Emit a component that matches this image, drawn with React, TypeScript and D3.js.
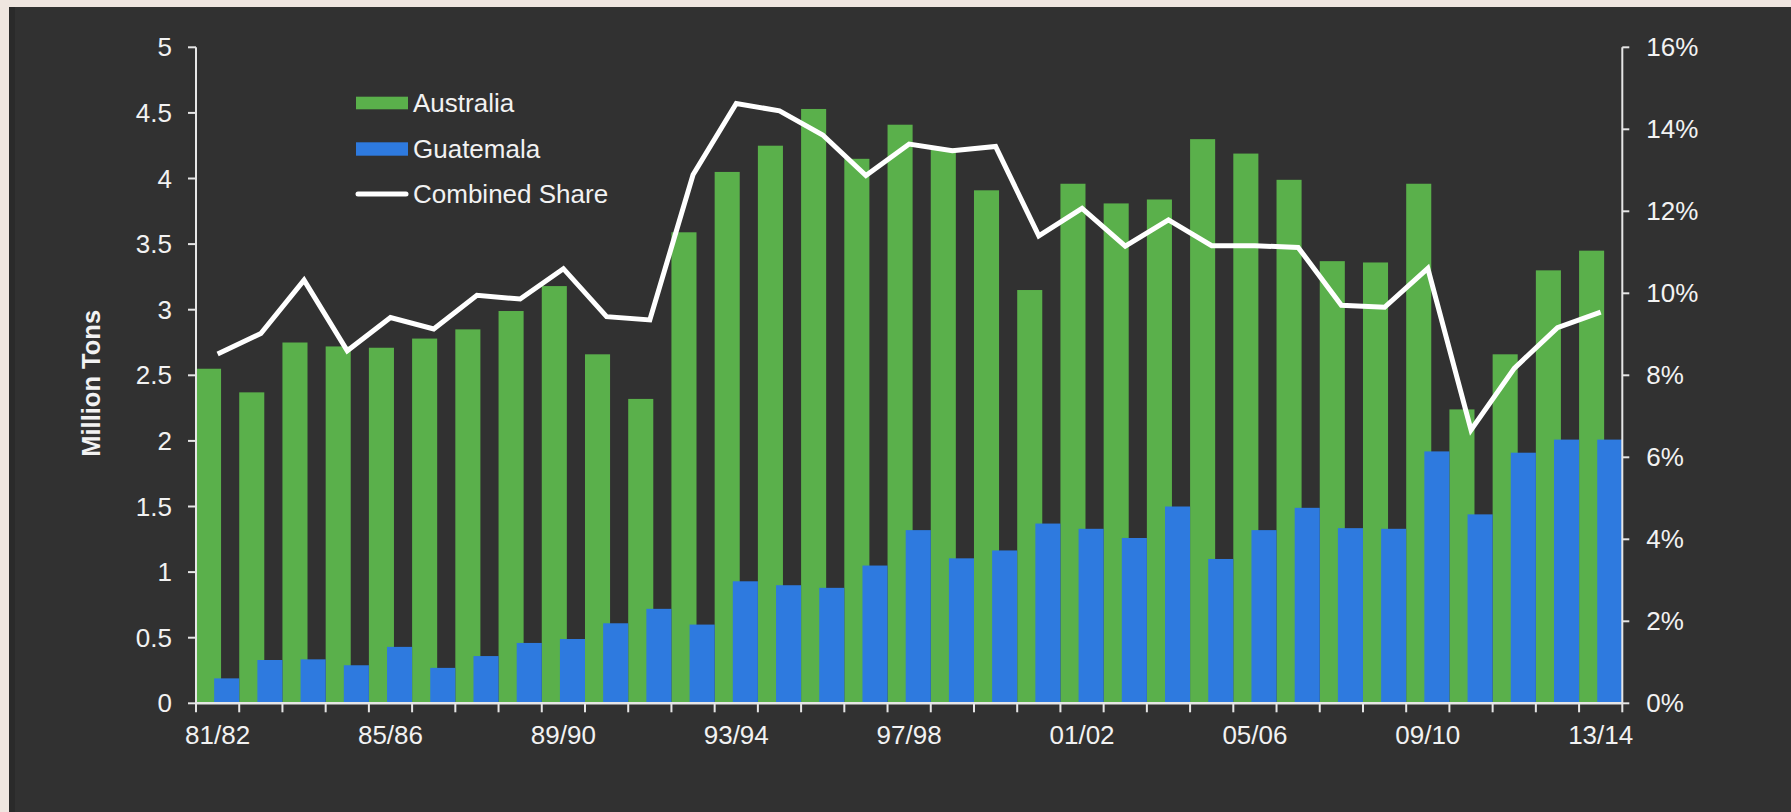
import React from "react";
import * as d3 from "d3";

const categories = [
  "81/82","82/83","83/84","84/85","85/86","86/87","87/88","88/89","89/90","90/91",
  "91/92","92/93","93/94","94/95","95/96","96/97","97/98","98/99","99/00","00/01",
  "01/02","02/03","03/04","04/05","05/06","06/07","07/08","08/09","09/10","10/11",
  "11/12","12/13","13/14",
];
const australia = [
  2.55, 2.37, 2.75, 2.72, 2.71, 2.78, 2.85, 2.99, 3.18, 2.66,
  2.32, 3.59, 4.05, 4.25, 4.53, 4.15, 4.41, 4.23, 3.91, 3.15,
  3.96, 3.81, 3.84, 4.30, 4.19, 3.99, 3.37, 3.36, 3.96, 2.24,
  2.66, 3.30, 3.45,
];
const guatemala = [
  0.19, 0.33, 0.335, 0.29, 0.43, 0.27, 0.36, 0.46, 0.49, 0.61,
  0.72, 0.60, 0.93, 0.90, 0.88, 1.05, 1.32, 1.105, 1.165, 1.37,
  1.33, 1.26, 1.50, 1.10, 1.32, 1.49, 1.335, 1.33, 1.92, 1.44,
  1.91, 2.01, 2.01,
];
const combinedShare = [
  8.52, 9.02, 10.32, 8.60, 9.41, 9.13, 9.95, 9.86, 10.60, 9.43,
  9.35, 12.89, 14.63, 14.45, 13.86, 12.87, 13.64, 13.48, 13.58, 11.40,
  12.07, 11.15, 11.79, 11.16, 11.16, 11.12, 9.71, 9.66, 10.61, 6.67,
  8.17, 9.16, 9.54,
];
const leftTicks = [0, 0.5, 1, 1.5, 2, 2.5, 3, 3.5, 4, 4.5, 5];
const rightTicks = [0, 2, 4, 6, 8, 10, 12, 14, 16];
const labelEvery = 4;
const legendItems = ["Australia", "Guatemala", "Combined Share"];

const W = 1791;
const H = 812;
const left = 196;
const right = 1622.3;
const top = 47.3;
const bottom = 703.3;
const FONT = "'Liberation Sans', Arial, Helvetica, sans-serif";
const GREEN = "#5AB04B";
const BLUE = "#2E7ADF";
const TEXT = "#F2F2F2";
const AXIS = "#E6E6E6";

export default function App() {
  const x = d3.scaleBand<string>().domain(categories).range([left, right]).padding(0);
  const bw = x.bandwidth();
  const yL = d3.scaleLinear().domain([0, 5]).range([bottom, top]);
  const yR = d3.scaleLinear().domain([0, 16]).range([bottom, top]);
  const line = d3
    .line<number>()
    .x((_, i) => (x(categories[i]) as number) + bw / 2)
    .y((d) => yR(d));
  const barW = bw * 0.58;

  return (
    <div style={{ position: "fixed", left: 0, top: 0, width: W, height: H, background: "#EFE6E0" }}>
      <svg width={W} height={H} style={{ display: "block" }}>
        <rect x={9} y={7} width={W - 9} height={H - 7} fill="#313131" />
        <rect x={9} y={7} width={6} height={H - 7} fill="#2A2A2A" />
        {/* bars */}
        {australia.map((v, i) => (
          <rect key={"a" + i} x={x(categories[i]) as number} y={yL(v)} width={barW} height={bottom - yL(v)} fill={GREEN} />
        ))}
        {guatemala.map((v, i) => (
          <rect key={"g" + i} x={(x(categories[i]) as number) + bw - barW} y={yL(v)} width={barW} height={bottom - yL(v)} fill={BLUE} />
        ))}
        {/* line */}
        <path d={line(combinedShare) || ""} fill="none" stroke="#FFFFFF" strokeWidth={5} strokeLinejoin="miter" />
        {/* left axis */}
        <line x1={left} x2={left} y1={top} y2={bottom} stroke={AXIS} strokeWidth={2} />
        {leftTicks.map((t) => (
          <g key={"l" + t}>
            <line x1={left - 8} x2={left} y1={yL(t)} y2={yL(t)} stroke={AXIS} strokeWidth={2} />
            <text x={left - 24} y={yL(t)} dy="0.35em" textAnchor="end" fill={TEXT} fontSize={26} fontFamily={FONT}>
              {t}
            </text>
          </g>
        ))}
        {/* right axis */}
        <line x1={right} x2={right} y1={top} y2={bottom} stroke={AXIS} strokeWidth={2} />
        {rightTicks.map((t) => (
          <g key={"r" + t}>
            <line x1={right} x2={right + 7} y1={yR(t)} y2={yR(t)} stroke={AXIS} strokeWidth={2} />
            <text x={right + 24} y={yR(t)} dy="0.35em" textAnchor="start" fill={TEXT} fontSize={26} fontFamily={FONT}>
              {t + "%"}
            </text>
          </g>
        ))}
        {/* x axis */}
        <line x1={left} x2={right} y1={bottom} y2={bottom} stroke={AXIS} strokeWidth={2.5} />
        {categories.map((c, i) => (
          <line key={"t" + i} x1={x(c) as number} x2={x(c) as number} y1={bottom} y2={bottom + 9} stroke={AXIS} strokeWidth={2} />
        ))}
        <line x1={right} x2={right} y1={bottom} y2={bottom + 9} stroke={AXIS} strokeWidth={2} />
        {categories.map((c, i) =>
          i % labelEvery === 0 ? (
            <text key={"x" + i} x={(x(c) as number) + bw / 2} y={743.5} textAnchor="middle" fill={TEXT} fontSize={26} fontFamily={FONT}>
              {c}
            </text>
          ) : null
        )}
        {/* y title */}
        <text
          transform={`translate(100, ${(top + bottom) / 2 + 8}) rotate(-90)`}
          textAnchor="middle"
          fill={TEXT}
          fontSize={25.5}
          fontWeight="bold"
          fontFamily={FONT}
        >
          Million Tons
        </text>
        {/* legend */}
        <rect x={356} y={96.7} width={52} height={12.6} fill={GREEN} />
        <rect x={356} y={142.3} width={52} height={13.4} fill={BLUE} />
        <line x1={358} x2={406} y1={194} y2={194} stroke="#FFFFFF" strokeWidth={5} strokeLinecap="round" />
        {legendItems.map((t, i) => (
          <text key={t} x={413} y={103 + i * 45.5} dy="0.35em" fill={TEXT} fontSize={26} fontFamily={FONT}>
            {t}
          </text>
        ))}
      </svg>
    </div>
  );
}
